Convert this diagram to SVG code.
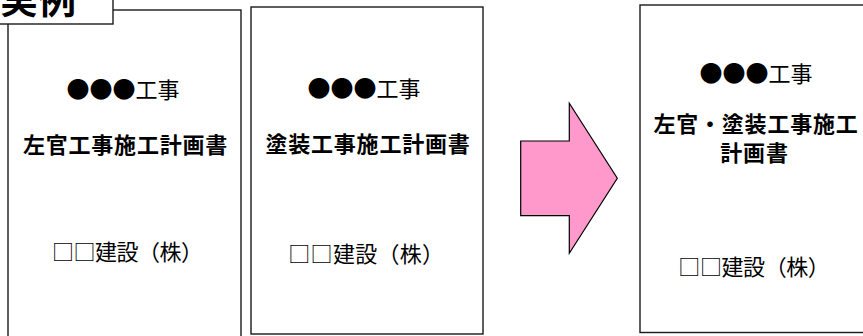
<svg xmlns="http://www.w3.org/2000/svg" width="863" height="336" viewBox="0 0 863 336">
  <style>
    .box { fill: #fff; stroke: #1a1a1a; stroke-width: 1.4; }
    .t { font-family: "Noto Sans CJK JP", "Noto Sans", sans-serif; fill: #000; text-anchor: middle; }
    .reg { font-size: 22px; font-weight: 400; }
    .circ { font-size: 23px; }
    .bold { font-size: 22px; font-weight: 700; letter-spacing: 0.8px; }
    .lbl { font-family: "Noto Sans CJK JP", sans-serif; font-size: 38px; font-weight: 700; fill: #000; }
    .arrow { fill: #ff99cc; stroke: #000; stroke-width: 1.2; stroke-linejoin: miter; }
  </style>

  <g id="doc-sakan">
    <rect class="box" x="8" y="10" width="233" height="340"/>
    <text class="t reg" x="123" y="97.5"><tspan class="circ">●●●</tspan>工事</text>
    <text class="t bold" x="125.5" y="153">左官工事施工計画書</text>
    <text class="t reg" x="63 84.5 106 127.5 149 170.5 192" y="259.5">□□建設（株）</text>
  </g>

  <g id="label">
    <rect class="box" x="-2" y="-20" width="115" height="44"/>
    <text class="lbl" x="0" y="13">実例</text>
  </g>

  <g id="doc-toso">
    <rect class="box" x="251" y="7" width="232" height="327"/>
    <text class="t reg" x="364" y="96.5"><tspan class="circ">●●●</tspan>工事</text>
    <text class="t bold" x="368" y="152">塗装工事施工計画書</text>
    <text class="t reg" x="299.3 321.6 343.9 366.2 388.5 410.8 433" y="261.5">□□建設（株）</text>
  </g>

  <g id="connectors">
    <polygon class="arrow" points="520.7,141 569.3,141 569.3,103.3 617.3,178.3 569.3,253.3 569.3,215.7 520.7,215.7"/>
  </g>

  <g id="doc-merged">
    <rect class="box" x="640" y="5" width="240" height="327.5"/>
    <text class="t reg" x="756" y="82"><tspan class="circ">●●●</tspan>工事</text>
    <text class="t bold" x="756" y="132">左官・塗装工事施工</text>
    <text class="t bold" x="754.5" y="161">計画書</text>
    <text class="t reg" x="689.3 710.9 732.5 754.1 775.7 797.3 818.7" y="275">□□建設（株）</text>
  </g>
</svg>
